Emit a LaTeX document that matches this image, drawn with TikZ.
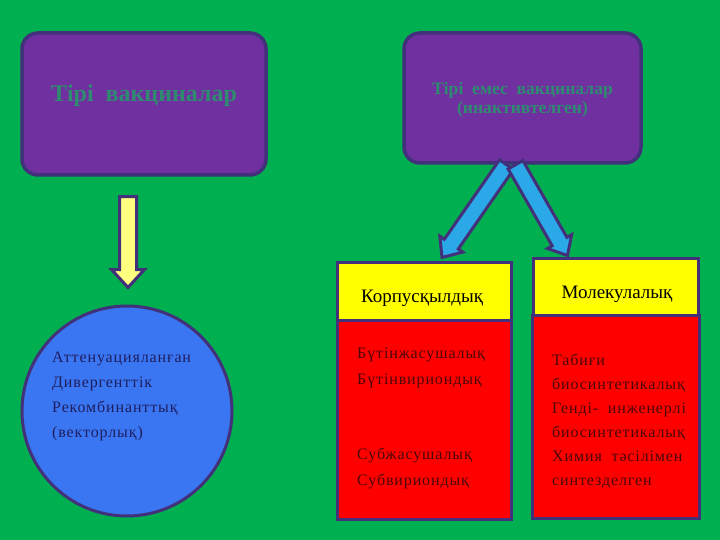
\documentclass[tikz,border=0pt]{standalone}
\usepackage{fontspec}
\setmainfont{Liberation Serif}
\usetikzlibrary{calc}
\definecolor{bg}{HTML}{00B050}
\definecolor{purp}{HTML}{7030A0}
\definecolor{edge}{HTML}{43307A}
\definecolor{ttl}{HTML}{2E8B70}
\definecolor{yel}{HTML}{FFFF00}
\definecolor{redf}{HTML}{FF0000}
\definecolor{blu}{HTML}{3A76F2}
\definecolor{arrb}{HTML}{2BA8E8}
\definecolor{arry}{HTML}{FFFF80}
\definecolor{redt}{HTML}{4A0808}
\definecolor{navy}{HTML}{1E1E60}
% #1 style, #2 from, #3 to, #4 half shaft, #5 half head, #6 head length
\newcommand\blockarrow[6]{%
  \draw[#1] let \p1=(#2), \p2=(#3),
    \n1={atan2(\y2-\y1,\x2-\x1)}, \n2={veclen(\x2-\x1,\y2-\y1)}, \n3={\n2-#6} in
    ($(\p1)+(\n1+90:#4pt)$) --
    ($(\p1)+(\n1:\n3)+(\n1+90:#4pt)$) --
    ($(\p1)+(\n1:\n3)+(\n1+90:#5pt)$) --
    (\p2) --
    ($(\p1)+(\n1:\n3)+(\n1-90:#5pt)$) --
    ($(\p1)+(\n1:\n3)+(\n1-90:#4pt)$) --
    ($(\p1)+(\n1-90:#4pt)$) -- cycle;}
\begin{document}
\begin{tikzpicture}[x=1pt,y=-1pt,
  pbox/.style={draw=edge, line width=3.5pt, fill=purp, rounded corners=16pt},
  ybox/.style={draw=edge, line width=3pt, fill=yel},
  rbox/.style={draw=edge, line width=3pt, fill=redf},
  ttltxt/.style={text=ttl, align=center},
  ltxt/.style={anchor=base west, inner sep=0pt},
  barb/.style={draw=edge, line width=3pt, fill=arrb, line join=miter},
  bary/.style={draw=edge, line width=3pt, fill=arry, line join=miter}]
\fill[bg] (0,0) rectangle (720,540);
\useasboundingbox (0,0) rectangle (720,540);

% top boxes
\node[pbox, minimum width=244pt, minimum height=142pt] (L) at (144,104) {};
\node[ttltxt, font=\fontsize{24}{28}\selectfont\bfseries] (Lt) at (144,96) {Тірі\ \ вакциналар};
\node[pbox, minimum width=237pt, minimum height=130pt] (R) at (522.5,98) {};
\node[ttltxt, font=\fontsize{17.6}{19}\selectfont\bfseries] (Rt) at (522.5,100) {Тірі\ \ емес\ \ вакциналар\\(инактивтелген)};

% lower right boxes
\node[rbox, minimum width=174pt, minimum height=199pt] (Kr) at (424,419.5) {};
\node[ybox, minimum width=174pt, minimum height=58pt] (K) at (424,291) {};
\node[rbox, minimum width=167pt, minimum height=203pt] (Mr) at (616,416.5) {};
\node[ybox, minimum width=165pt, minimum height=57pt] (M) at (615.5,286.5) {};
\node[font=\fontsize{19}{22}\selectfont, anchor=base] (Kt) at (422,302) {Корпусқылдық};
\node[font=\fontsize{19}{22}\selectfont, anchor=base] (Mt) at (617,298) {Молекулалық};

% circle
\node[circle, draw=edge, line width=3pt, fill=blu, minimum size=210pt, inner sep=0pt] (C) at (127,411) {};

% texts
\begin{scope}[every node/.style={ltxt, font=\fontsize{16}{19}\selectfont\addfontfeature{LetterSpace=5.5}, text=navy}]
\node (c1) at (52,362) {Аттенуацияланған};
\node (c2) at (52,387) {Дивергенттік};
\node (c3) at (52,412) {Рекомбинанттық};
\node (c4) at (52,437) {(векторлық)};
\end{scope}
\begin{scope}[every node/.style={ltxt, font=\fontsize{16}{19}\selectfont\addfontfeature{LetterSpace=5.5}, text=redt}]
\node (k1) at (357,358) {Бүтінжасушалық};
\node (k2) at (357,384) {Бүтінвириондық};
\node (k3) at (357,459) {Субжасушалық};
\node (k4) at (357,485) {Субвириондық};
\node (m1) at (552,365) {Табиғи};
\node (m2) at (552,389) {биосинтетикалық};
\node (m3) at (552,413) {Генді-\ \ инженерлі};
\node (m4) at (552,437) {биосинтетикалық};
\node (m5) at (552,461) {Химия\ \ тәсілімен};
\node (m6) at (552,485) {синтезделген};
\end{scope}

% arrows
\blockarrow{bary}{$(L.south)+(-16,20)$}{$(C.north)+(1,-17)$}{8.5}{16.5}{18}
\blockarrow{barb}{$(R.south)+(-16,0)$}{$(K.north)+(18,-3)$}{8.5}{14}{16}
\blockarrow{barb}{$(R.south)+(-7,0)$}{$(M.north)+(-48,-1)$}{8.5}{14}{16}
\end{tikzpicture}
\end{document}
